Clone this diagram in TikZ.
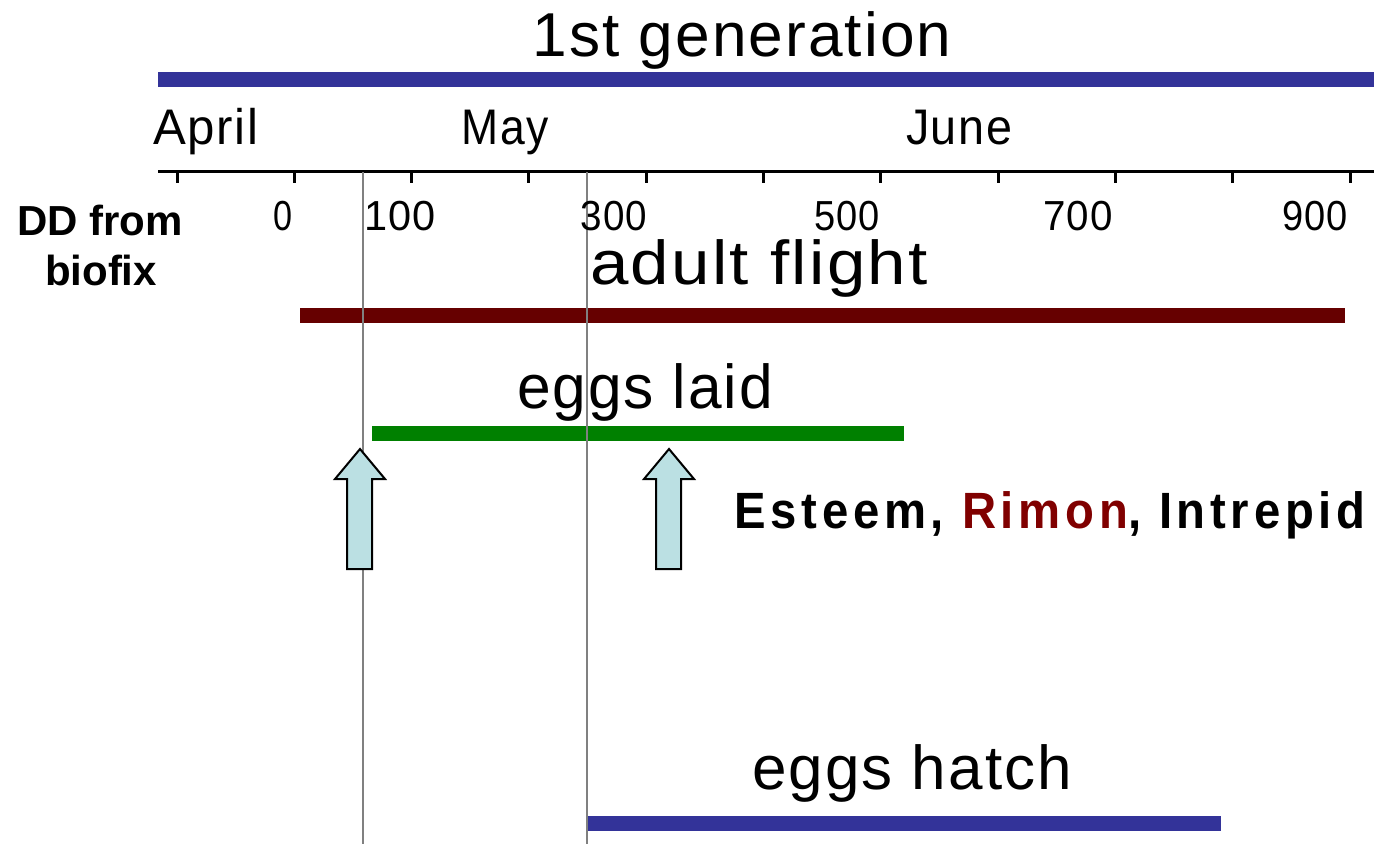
\documentclass[tikz,border=0pt]{standalone}
\usepackage{graphicx}
\usepackage{fontspec}
\setmainfont{Liberation Sans}
\newfontfamily\narrowfont[FakeStretch=0.9,LetterSpace=3]{Liberation Sans}
\newfontfamily\productfont[FakeStretch=0.8,LetterSpace=8]{Liberation Sans}
% scale a label horizontally to a given width, keeping its height
\newcommand\fitto[2]{\resizebox{#1}{\height}{#2}}
\newcommand\bigtext[2]{\fitto{#1}{\narrowfont\fontsize{62}{72}\selectfont #2}}
\newcommand\monthtext[2]{\fitto{#1}{\narrowfont\fontsize{50}{58}\selectfont #2}}
\newcommand\numtext[2]{\fitto{#1}{\narrowfont\fontsize{42}{48}\selectfont #2}}
\definecolor{genblue}{RGB}{51,51,153}
\definecolor{flightred}{RGB}{102,0,0}
\definecolor{laidgreen}{RGB}{0,128,0}
\definecolor{rimonred}{RGB}{128,0,0}
\definecolor{arrowfill}{RGB}{187,224,227}
\definecolor{guidegray}{RGB}{128,128,128}
\tikzset{
  lbl/.style={inner sep=0pt, anchor=base},
  axisline/.style={line width=3pt, black},
  tickmark/.style={line width=3pt, black},
  guide/.style={line width=1.5pt, guidegray},
  blockarrow/.pic={
    \draw[line width=2pt, fill=arrowfill, line join=miter]
      (0,0) -- (25,30) -- (12,30) -- (12,120) -- (-13,120) -- (-13,30) -- (-25,30) -- cycle;
  }
}
\begin{document}
\begin{tikzpicture}[x=1pt,y=-1pt]
\useasboundingbox (0,0) rectangle (1374,844);

% phase bars
\fill[genblue]   (158,72)  rectangle (1374,87);
\fill[flightred] (300,308) rectangle (1345,323);
\fill[laidgreen] (372,426) rectangle (904,441);
\fill[genblue]   (587,816) rectangle (1221,831);

% degree-day axis
\coordinate (axL) at (158,171);
\coordinate (axR) at (1374,171);
\draw[axisline] (axL) -- (axR);
\foreach \i in {0,...,10}{
  \draw[tickmark] ({177+117.3*\i},171) -- ({177+117.3*\i},183);
}

% guide lines at the spray timings
\coordinate (g1top) at (363,172);
\coordinate (g1bot) at (363,844);
\coordinate (g2top) at (587,172);
\coordinate (g2bot) at (587,844);
\draw[guide] (g1top) -- (g1bot);
\draw[guide] (g2top) -- (g2bot);

% spray arrows
\pic (arrowA) at (360,449) {blockarrow};
\pic (arrowB) at (669,449) {blockarrow};

% labels
\node[lbl] (title) at (742,56) {\bigtext{419pt}{1st generation}};
\node[lbl] (april) at (206,144) {\monthtext{105pt}{April}};
\node[lbl] (may)   at (505,144) {\monthtext{87pt}{May}};
\node[lbl] (june)  at (959,144) {\monthtext{106pt}{June}};

\node[lbl] (n0)   at (283,230)  {\numtext{19pt}{0}};
\node[lbl] (n100) at (400,230)  {\numtext{72pt}{100}};
\node[lbl] (n300) at (614,230)  {\numtext{67pt}{300}};
\node[lbl] (n500) at (847,230)  {\numtext{66pt}{500}};
\node[lbl] (n700) at (1078,230) {\numtext{70pt}{700}};
\node[lbl] (n900) at (1315,230) {\numtext{66pt}{900}};

\node[lbl] (dd)     at (100,235) {\fontsize{42}{50}\selectfont\bfseries DD from};
\node[lbl] (biofix) at (101,285) {\fontsize{42}{50}\selectfont\bfseries biofix};

\node[lbl] (flight) at (759,284) {\bigtext{338pt}{adult flight}};
\node[lbl] (laid)   at (645,408) {\bigtext{256pt}{eggs laid}};
\node[lbl] (hatch)  at (912,789) {\bigtext{320pt}{eggs hatch}};

\node[lbl] (drugs) at (1050,528) {\fitto{631pt}{\productfont\bfseries\fontsize{51}{58}\selectfont
  Esteem, \textcolor{rimonred}{Rimon}, Intrepid}};
\end{tikzpicture}
\end{document}
